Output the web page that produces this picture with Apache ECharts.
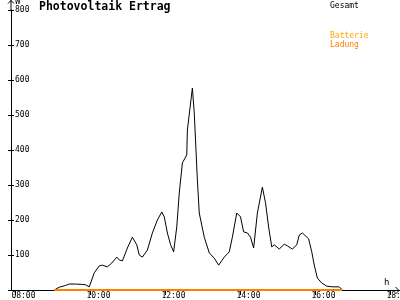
<!DOCTYPE html>
<html>
<head>
<meta charset="utf-8">
<script src="https://cdn.jsdelivr.net/npm/echarts@6/dist/echarts.min.js"></script>
<style>html,body{margin:0;padding:0;background:#fff}#c{width:400px;height:300px}</style>
</head>
<body>
<div id="c"></div>
<script>
// ---- data ----
const titleText = 'Photovoltaik Ertrag';
const seriesNames = ['Gesamt', 'Batterie Ladung'];
const xTickLabels = ['08:00', '10:00', '12:00', '14:00', '16:00', '18:00'];
const yTicks = [0, 100, 200, 300, 400, 500, 600, 700, 800];

const gesamtTimes = ['09:02','09:10','09:20','09:26','09:36','09:46','09:52','09:58','10:06','10:14','10:19','10:27','10:34','10:42','10:46','10:51','10:59','11:07','11:14','11:18','11:23','11:31','11:39','11:47','11:54','11:58','12:03','12:08','12:13','12:18','12:22','12:27','12:34','12:35','12:43','12:46','12:51','12:54','13:02','13:10','13:18','13:25','13:34','13:42','13:47','13:54','14:00','14:05','14:11','14:16','14:21','14:27','14:35','14:40','14:45','14:50','14:54','15:02','15:10','15:15','15:23','15:30','15:34','15:39','15:49','15:54','15:58','16:03','16:10','16:18','16:27','16:38','16:43'];
const gesamtValues = [0,8,13,17,17,16,15,9,49,69,71,66,77,94,86,83,120,151,129,100,94,114,163,200,223,209,163,130,109,180,277,363,386,457,577,506,314,220,151,106,91,71,94,109,151,220,209,166,163,151,120,220,294,249,180,123,129,117,131,126,117,129,157,163,146,109,71,34,20,11,9,9,0];

const batterieTimes = ['09:02', '16:43'];
const batterieValues = [0, 0];

// ---- helpers ----
function toH(t) { const p = t.split(':'); return +p[0] + (+p[1]) / 60; }
function fmtH(h) { const hh = Math.round(h); return (hh < 10 ? '0' : '') + hh + ':00'; }
const tickHours = xTickLabels.map(toH);
const LABEL_SHIFT = 0.11;

const FONT = 'DejaVu Sans Mono';
const X_MIN = 7.88, X_MAX = 18.253;

const chart = echarts.init(document.getElementById('c'), null, {renderer: 'canvas'});
chart.setOption({
  animation: false,
  backgroundColor: '#fff',
  title: {
    text: titleText, left: 39, top: 1, padding: 0,
    textStyle: {fontFamily: FONT, fontWeight: 'bold', fontSize: 11.5, color: '#000'}
  },
  legend: {
    left: 325, top: 1, orient: 'vertical', padding: 0,
    itemWidth: 0, itemHeight: 0, itemGap: 21, selectedMode: false,
    icon: 'rect',
    data: seriesNames,
    textStyle: {
      fontFamily: FONT, fontSize: 8, color: '#000', lineHeight: 9,
      rich: {
        a: {color: '#ffa500', fontFamily: FONT, fontSize: 8, lineHeight: 9},
        b: {color: '#ff8000', fontFamily: FONT, fontSize: 8, lineHeight: 9}
      }
    },
    formatter: function (name) {
      if (name === seriesNames[1]) { const p = name.split(' '); return '{a|' + p[0] + '}\n{b|' + p[1] + '}'; }
      return name;
    }
  },
  grid: {left: 11, right: 0, top: 10, bottom: 10, containLabel: false, outerBoundsMode: 'none'},
  xAxis: {
    type: 'value', min: X_MIN, max: X_MAX,
    axisLine: {show: true, lineStyle: {color: '#000', width: 1}},
    axisTick: {show: true, customValues: tickHours, length: 5, lineStyle: {color: '#000'}},
    axisLabel: {
      show: true, customValues: tickHours.map(h => h - LABEL_SHIFT),
      formatter: v => fmtH(v + LABEL_SHIFT), align: 'left', alignMinLabel: 'left', alignMaxLabel: 'left', margin: 2,
      hideOverlap: false,
      fontFamily: FONT, fontSize: 8, color: '#000'
    },
    splitLine: {show: false},
    name: 'h', nameLocation: 'end', nameGap: -16,
    nameTextStyle: {fontFamily: FONT, fontSize: 9, color: '#000', verticalAlign: 'bottom', padding: [0, 0, 3, 0]}
  },
  yAxis: [{
    type: 'value', min: yTicks[0], max: yTicks[yTicks.length - 1], interval: yTicks[1] - yTicks[0],
    axisLine: {show: true, lineStyle: {color: '#000', width: 1}},
    axisTick: {show: true, inside: true, length: 3, lineStyle: {color: '#000'}},
    axisLabel: {inside: true, margin: 4, showMinLabel: false, fontFamily: FONT, fontSize: 8, color: '#000'},
    splitLine: {show: false},
    name: 'W', nameLocation: 'end', nameGap: 1,
    nameTextStyle: {fontFamily: FONT, fontSize: 9, color: '#000', align: 'left', verticalAlign: 'bottom', padding: [0, 0, 0, 4]}
  }, {
    type: 'value', min: yTicks[0], max: yTicks[yTicks.length - 1], interval: yTicks[1] - yTicks[0],
    position: 'left',
    axisLine: {show: false},
    axisTick: {show: true, inside: false, length: 3, lineStyle: {color: '#000'}},
    axisLabel: {show: false},
    splitLine: {show: false}
  }],
  graphic: [
    {type: 'polyline', shape: {points: [[11, 10], [11, 0]]}, style: {stroke: '#000', lineWidth: 1, fill: null}},
    {type: 'polyline', shape: {points: [[8, 3.5], [11, 0.5], [14, 3.5]]}, style: {stroke: '#000', lineWidth: 1, fill: null}},
    {type: 'polyline', shape: {points: [[395.5, 287], [399, 290.5], [395.5, 294]]}, style: {stroke: '#000', lineWidth: 1, fill: null}}
  ],
  series: [{
    name: seriesNames[0], type: 'line', yAxisIndex: 0,
    data: gesamtTimes.map((t, i) => [toH(t), gesamtValues[i]]),
    symbol: 'none', showSymbol: false,
    lineStyle: {color: '#000', width: 1}, itemStyle: {color: '#000'}, z: 2
  }, {
    name: seriesNames[1], type: 'line', yAxisIndex: 0,
    data: batterieTimes.map((t, i) => [toH(t), batterieValues[i]]),
    symbol: 'none', showSymbol: false,
    lineStyle: {color: '#ff8000', width: 2}, itemStyle: {color: '#ff8000'}, z: 3
  }]
});
</script>
</body>
</html>
